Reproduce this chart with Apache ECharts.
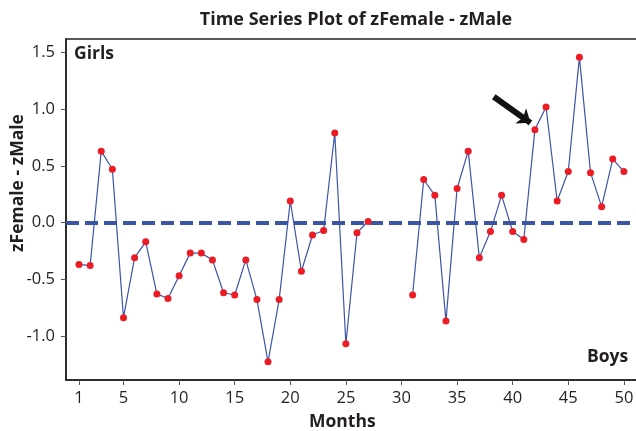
<!DOCTYPE html>
<html>
<head>
<meta charset="utf-8">
<script src="https://cdn.jsdelivr.net/npm/echarts@6/dist/echarts.min.js"></script>
<style>html,body{margin:0;padding:0;background:#fff}#c{width:636px;height:431px}</style>
</head>
<body>
<div id="c"></div>
<script>
const months = [1,2,3,4,5,6,7,8,9,10,11,12,13,14,15,16,17,18,19,20,21,22,23,24,25,26,27,28,29,30,31,32,33,34,35,36,37,38,39,40,41,42,43,44,45,46,47,48,49,50];
const zDiff = [-0.37,-0.38,0.63,0.47,-0.84,-0.31,-0.17,-0.63,-0.67,-0.47,-0.27,-0.27,-0.33,-0.62,-0.64,-0.33,-0.68,-1.23,-0.68,0.19,-0.43,-0.11,-0.07,0.79,-1.07,-0.09,0.01,null,null,null,-0.64,0.38,0.24,-0.87,0.30,0.63,-0.31,-0.08,0.24,-0.08,-0.15,0.82,1.02,0.19,0.45,1.46,0.44,0.14,0.56,0.45];
const xTicks = [1,5,10,15,20,25,30,35,40,45,50];
const yTicks = [-1.0,-0.5,0.0,0.5,1.0,1.5];
const arrowFrom = [38.3, 1.11];
const arrowTo = [41.6, 0.88];

const FONT = '"Open Sans", "Noto Sans", sans-serif';
const TXT = '#231f20';
const chart = echarts.init(document.getElementById('c'));
chart.setOption({
  animation: false,
  backgroundColor: '#fff',
  title: {
    text: 'Time Series Plot of zFemale - zMale',
    left: 351, top: 6, textAlign: 'center',
    textStyle: {fontFamily: FONT, fontWeight: 'bold', fontSize: 18, color: TXT}
  },
  grid: {left: 66, top: 39, right: -4, bottom: 51, outerBoundsMode: 'none', containLabel: false,
    show: true, borderColor: TXT, borderWidth: 1.5, backgroundColor: 'transparent'},
  xAxis: {
    type: 'value', min: -0.17, max: 51.45,
    splitLine: {show: false},
    axisLine: {show: true, onZero: false, lineStyle: {color: TXT, width: 1.5}},
    axisTick: {show: true, length: 5, customValues: xTicks, lineStyle: {color: '#555'}},
    axisLabel: {customValues: xTicks, margin: 10, fontFamily: FONT, fontSize: 16.5, color: TXT}
  },
  yAxis: {
    type: 'value', min: -1.39, max: 1.62,
    splitLine: {show: false},
    axisLine: {show: true, onZero: false, lineStyle: {color: TXT, width: 1.5}},
    axisTick: {show: true, length: 5, customValues: yTicks, lineStyle: {color: '#555'}},
    axisLabel: {customValues: yTicks, margin: 11, fontFamily: FONT, fontSize: 16.5, color: TXT,
      formatter: v => v.toFixed(1)}
  },
  graphic: [
    {type: 'text', left: 74, top: 45, style: {text: 'Girls', fontFamily: FONT, fontWeight: 'bold', fontSize: 17.5, fill: TXT}},
    {type: 'text', left: 587, top: 348, style: {text: 'Boys', fontFamily: FONT, fontWeight: 'bold', fontSize: 17.5, fill: TXT}},
    {type: 'text', left: 309, top: 413, style: {text: 'Months', fontFamily: FONT, fontWeight: 'bold', fontSize: 17.5, fill: TXT}},
    {type: 'text', x: 18, y: 183, rotation: Math.PI / 2, style: {text: 'zFemale - zMale', fontFamily: FONT, fontWeight: 'bold', fontSize: 17.5, fill: TXT, align: 'center', verticalAlign: 'middle'}}
  ],
  series: [{
    type: 'line',
    data: months.map((m, i) => [m, zDiff[i]]),
    connectNulls: false,
    symbol: 'circle', symbolSize: 7,
    itemStyle: {color: '#ec1c24'},
    lineStyle: {color: '#3b54a8', width: 1.2},
    z: 3,
    markLine: {
      silent: true, animation: false, z: 2,
      data: [
        [{coord: [-0.17, 0], symbol: 'none', lineStyle: {color: '#3a55a4', width: 4, type: [13, 6]}}, {coord: [51.45, 0], symbol: 'none'}],
        [{coord: arrowFrom, symbol: 'none', lineStyle: {color: '#111', width: 6, type: 'solid'}}, {coord: arrowTo, symbol: 'arrow', symbolSize: [14, 12]}]
      ],
      label: {show: false}
    }
  }]
});
</script>
</body>
</html>
